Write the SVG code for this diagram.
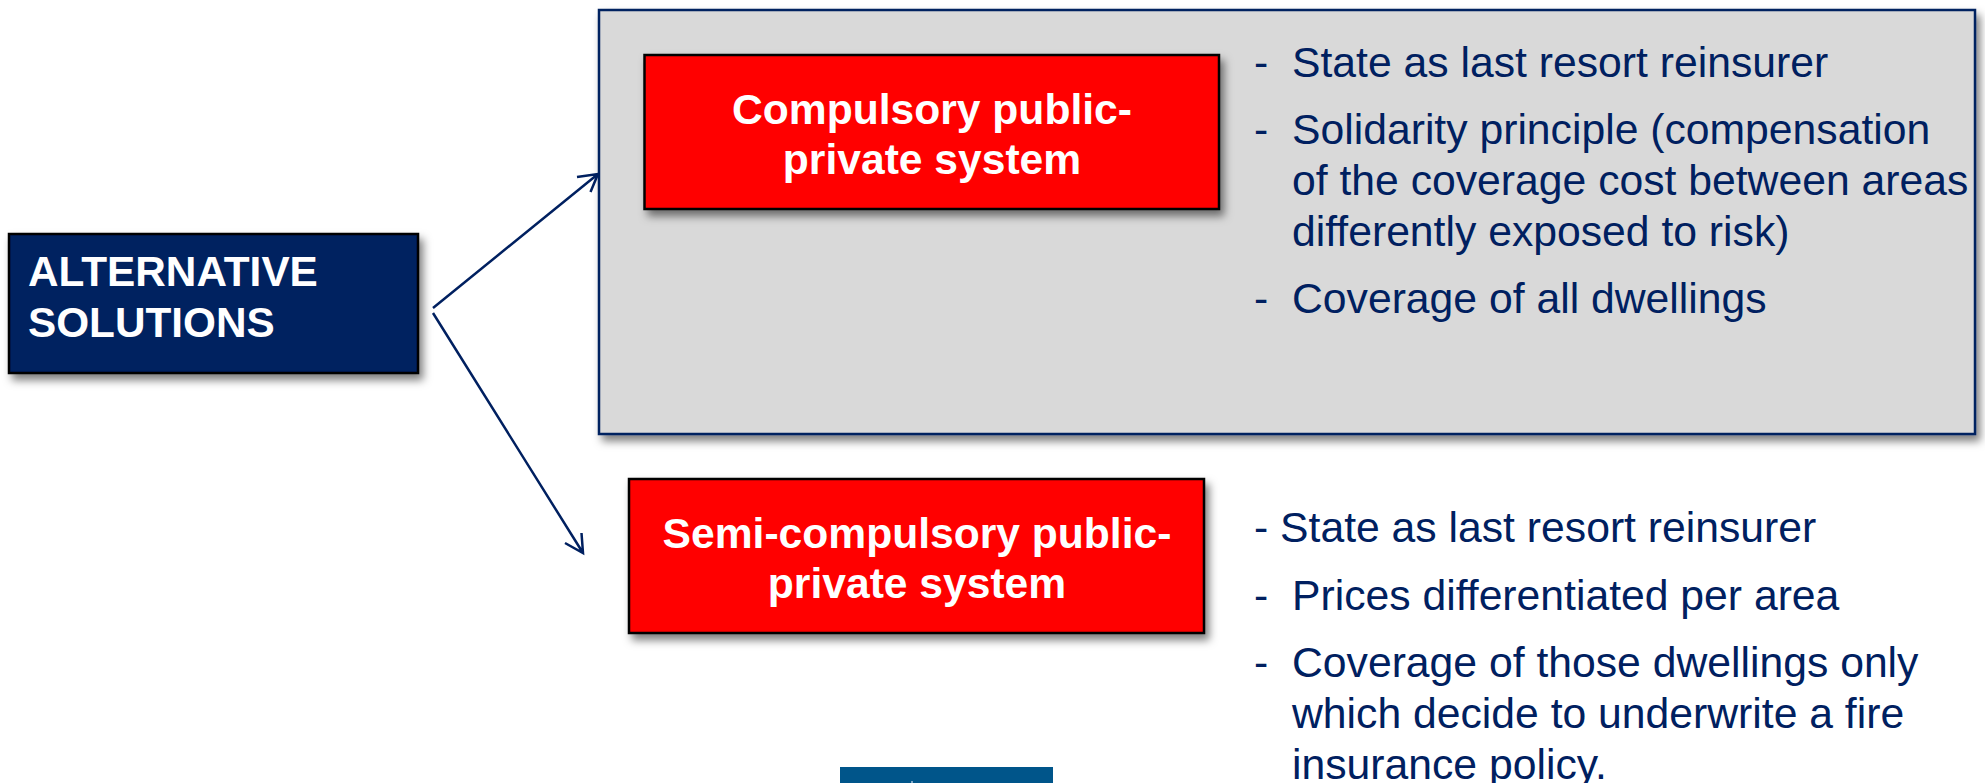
<svg xmlns="http://www.w3.org/2000/svg" width="1985" height="783" viewBox="0 0 1985 783">
<style>
text{font-family:"Liberation Sans",Arial,sans-serif}
.t{font-size:42.7px;fill:#002060}
.b{font-size:42.6px;font-weight:bold;fill:#fff}
.c{text-anchor:middle}
.red{fill:#f00;stroke:#000;stroke-width:2.5}
.con{fill:none;stroke:#002060;stroke-width:2.5}
</style>
<defs><filter id="sh" x="-5%" y="-10%" width="110%" height="125%"><feDropShadow dx="4" dy="6" stdDeviation="4" flood-color="#000" flood-opacity="0.5"/></filter></defs>
<rect width="1985" height="783" fill="#fff"/>
<g id="alternative">
<rect x="9" y="234" width="409" height="139" fill="#002060" stroke="#000" stroke-width="2.5" filter="url(#sh)"/>
<text class="b" x="28" y="286" style="font-size:42.3px">ALTERNATIVE</text>
<text class="b" x="28" y="337" style="font-size:42.3px">SOLUTIONS</text>
</g>
<g id="compulsory">
<rect x="599" y="10" width="1376" height="424" fill="#d9d9d9" stroke="#002060" stroke-width="2.5" filter="url(#sh)"/>
<rect class="red" x="644.5" y="55" width="574.5" height="154" filter="url(#sh)"/>
<text class="b c" x="932" y="124">Compulsory public-</text>
<text class="b c" x="932" y="174">private system</text>
<text class="t" x="1254" y="77">-</text><text class="t" x="1292" y="77">State as last resort reinsurer</text>
<text class="t" x="1254" y="144">-</text><text class="t" x="1292" y="144">Solidarity principle (compensation</text>
<text class="t" x="1292" y="195">of the coverage cost between areas</text>
<text class="t" x="1292" y="246">differently exposed to risk)</text>
<text class="t" x="1254" y="313">-</text><text class="t" x="1292" y="313">Coverage of all dwellings</text>
</g>
<g id="semi">
<rect class="red" x="629" y="479" width="575" height="154" filter="url(#sh)"/>
<text class="b c" x="917" y="548">Semi-compulsory public-</text>
<text class="b c" x="917" y="598">private system</text>
<text class="t" x="1254" y="542">- State as last resort reinsurer</text>
<text class="t" x="1254" y="610">-</text><text class="t" x="1292" y="610">Prices differentiated per area</text>
<text class="t" x="1254" y="677">-</text><text class="t" x="1292" y="677">Coverage of those dwellings only</text>
<text class="t" x="1292" y="728">which decide to underwrite a fire</text>
<text class="t" x="1292" y="779">insurance policy.</text>
</g>
<g id="bar"><rect x="840" y="767" width="213" height="16" fill="#00558a"/><rect x="911" y="781" width="2" height="2" fill="#7fa8c8"/></g>
<g id="connectors" class="con">
<path d="M433 308L598 174M577 177L598 174L590.5 192"/>
<path d="M433 313L583 553M565 543L583 553L581.5 533"/>
</g>
</svg>
